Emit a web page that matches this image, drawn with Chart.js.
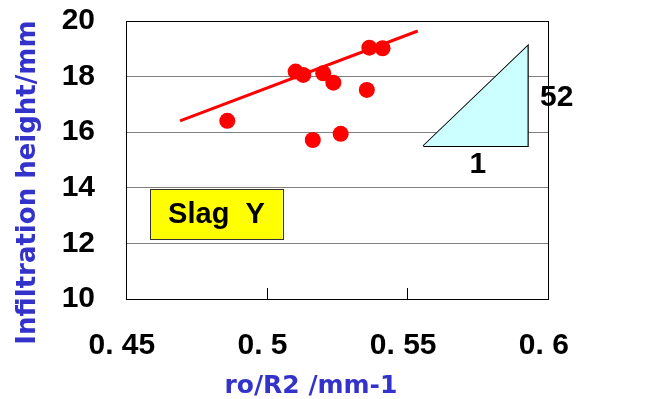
<!DOCTYPE html>
<html>
<head>
<script src="https://cdn.jsdelivr.net/npm/chart.js@4/dist/chart.umd.min.js"></script>
<style>
  body { margin: 0; background: #fff; }
</style>
</head>
<body>
<canvas id="myChart" width="652" height="399"></canvas>
<script>
// measured points (ro/R2, infiltration height)
var xVals = [0.4860, 0.5103, 0.5130, 0.5201, 0.5237, 0.5356, 0.5365, 0.5412, 0.5164, 0.5263];
var yVals = [16.41, 18.18, 18.06, 18.12, 17.78, 17.52, 19.04, 19.02, 15.72, 15.94];
// fitted line end points
var fitX = [0.4692, 0.5537];
var fitY = [16.41, 19.64];
// slope triangle (outline), corners
var triX = [0.5557, 0.5928, 0.5928, 0.5557];
var triY = [15.50, 19.10, 15.50, 15.50];
var xTicks = [0.45, 0.5, 0.55, 0.6];
var xTickLabels = ['0. 45 ', '0. 5 ', '0. 55 ', '0. 6 '];
var notes = [
  { text: '52', x: 0.6031, y: 17.23 },
  { text: '1', x: 0.5751, y: 14.82 }
];
var slagLabel = 'Slag  Y';
var slagBox = { x0: 0.4586, x1: 0.5057, y0: 13.96, y1: 12.16 };

var BLUE = '#3333cc';
var tickFont = { family: "'Liberation Sans', Arial, sans-serif", size: 30, weight: 'bold' };
var titleFont = { family: "'DejaVu Sans', sans-serif", size: 25, weight: 'bold', lineHeight: 1 };

function pts(xs, ys) {
  return xs.map(function (x, i) { return { x: x, y: ys[i] }; });
}

// extra drawings: inside tick marks, the slope numbers, the slag box
var extras = {
  id: 'extras',
  afterDatasetsDraw: function (chart) {
    var ctx = chart.ctx;
    var xs = chart.scales.x, ys = chart.scales.y;
    ctx.save();
    ctx.strokeStyle = '#000';
    ctx.lineWidth = 1;
    for (var i = 1; i < xTicks.length - 1; i++) {
      var px = Math.round(xs.getPixelForValue(xTicks[i])) + 0.5;
      ctx.beginPath();
      ctx.moveTo(px, ys.bottom);
      ctx.lineTo(px, ys.bottom - 11);
      ctx.stroke();
    }

    // slag box
    var bx = xs.getPixelForValue(slagBox.x0), bx1 = xs.getPixelForValue(slagBox.x1);
    var by = ys.getPixelForValue(slagBox.y0), by1 = ys.getPixelForValue(slagBox.y1);
    ctx.fillStyle = '#ffff00';
    ctx.fillRect(bx, by, bx1 - bx, by1 - by);
    ctx.strokeStyle = '#333';
    ctx.strokeRect(Math.round(bx) + 0.5, Math.round(by) + 0.5, Math.round(bx1 - bx), Math.round(by1 - by));
    ctx.fillStyle = '#000';
    ctx.font = "bold 29px 'Liberation Sans', Arial, sans-serif";
    ctx.textAlign = 'center';
    ctx.textBaseline = 'middle';
    ctx.fillText(slagLabel, (bx + bx1) / 2, (by + by1) / 2 + 1);

    ctx.font = "bold 30px 'Liberation Sans', Arial, sans-serif";
    notes.forEach(function (n) {
      ctx.fillText(n.text, xs.getPixelForValue(n.x), ys.getPixelForValue(n.y));
    });
    ctx.restore();
  }
};

var ctx = document.getElementById('myChart').getContext('2d');
var myChart = new Chart(ctx, {
  type: 'scatter',
  data: {
    datasets: [
      {
        // triangle fill: hypotenuse filled down to its base
        type: 'line',
        data: pts(triX.slice(0, 2), triY.slice(0, 2)),
        borderWidth: 0,
        borderColor: 'rgba(0,0,0,0)',
        backgroundColor: '#ccffff',
        fill: { value: triY[0] },
        pointRadius: 0,
        tension: 0
      },
      {
        type: 'line',
        data: pts(triX, triY),
        borderColor: '#000',
        borderWidth: 2,
        fill: false,
        pointRadius: 0,
        tension: 0
      },
      {
        type: 'line',
        data: pts(fitX, fitY),
        borderColor: '#ff0000',
        borderWidth: 3,
        fill: false,
        pointRadius: 0
      },
      {
        data: pts(xVals, yVals),
        backgroundColor: '#ff0000',
        borderWidth: 0,
        pointRadius: 8
      }
    ]
  },
  options: {
    responsive: false,
    animation: false,
    layout: { padding: { top: 21, right: 104, left: 0, bottom: 0 } },
    plugins: { legend: { display: false }, tooltip: { enabled: false } },
    scales: {
      x: {
        type: 'linear',
        min: 0.45,
        max: 0.6,
        afterBuildTicks: function (s) { s.ticks = xTicks.map(function (v) { return { value: v }; }); },
        afterFit: function (s) { s.height = 100; s.paddingLeft = 0; s.paddingRight = 0; },
        ticks: {
          color: '#000',
          font: tickFont,
          padding: 29,
          maxRotation: 0,
          callback: function (v, i) { return xTickLabels[i]; }
        },
        grid: {
          drawTicks: false,
          color: function (c) { return c.tick && c.tick.value === 0.6 ? '#000' : 'rgba(0,0,0,0)'; },
          lineWidth: 1
        },
        border: { display: true, color: '#000', width: 1 },
        title: { display: true, text: 'ro/R2 /mm-1      ', color: BLUE, font: titleFont, padding: { top: 0, bottom: 0 } }
      },
      y: {
        min: 10,
        max: 20,
        afterFit: function (s) { s.width = 126; s.paddingTop = 0; s.paddingBottom = 0; },
        ticks: { stepSize: 2, color: '#000', font: tickFont, padding: 31 },
        grid: {
          drawTicks: false,
          color: function (c) { return c.tick && (c.tick.value === 20) ? '#000' : '#808080'; },
          lineWidth: 1
        },
        border: { display: true, color: '#000', width: 1 },
        title: {
          display: true,
          text: 'Infiltration height/mm     ',
          color: BLUE,
          font: { family: "'DejaVu Sans', sans-serif", size: 26, weight: 'bold', lineHeight: 1 },
          padding: { top: 15, bottom: 0 }
        }
      }
    }
  },
  plugins: [extras]
});
</script>
</body>
</html>
